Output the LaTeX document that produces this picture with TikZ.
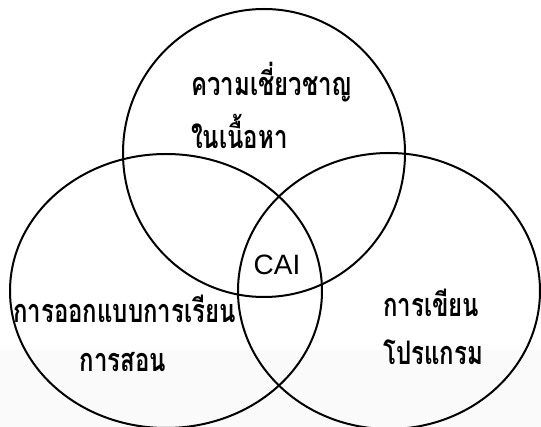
\documentclass[tikz,border=0pt]{standalone}
\usepackage{fontspec}
\setmainfont{Liberation Sans}
\newfontfamily\thaifont[Script=Thai]{Loma}
\usepackage{tikz}
\usetikzlibrary{positioning}

\newcommand{\thtext}[1]{\scalebox{1}[1.35]{#1}}

\tikzset{
  setline/.style={line width=2pt},
  thlabel/.style={inner sep=0pt, font=\thaifont\bfseries\fontsize{24}{28}\selectfont},
  cailabel/.style={inner sep=0pt, font=\fontsize{28}{32}\selectfont}
}

\begin{document}
\begin{tikzpicture}[x=1pt,y=-1pt]
  \useasboundingbox (0,0) rectangle (541,427);
  \fill[black!2] (0,350) rectangle (541,427);
  % the three sets
  \draw[setline] (264,153) ellipse [x radius=141pt, y radius=144pt];
  \draw[setline] (166,291) ellipse [x radius=156pt, y radius=137pt];
  \draw[setline] (389,291) ellipse [x radius=151pt, y radius=138pt];
  % labels
  \node[thlabel, anchor=west] (know1) at (191,82) {\thtext{ความเชี่ยวชาญ}};
  \node[thlabel, anchor=west] (know2) at (191,131) {\thtext{ในเนื้อหา}};
  \node[cailabel] (cai) at (277,265) {CAI};
  \node[thlabel, anchor=west] (design1) at (13,309) {\thtext{การออกแบบการเรียน}};
  \node[thlabel] (design2) at (123,362) {\thtext{การสอน}};
  \node[thlabel, anchor=west] (prog1) at (383,303) {\thtext{การเขียน}};
  \node[thlabel, anchor=west] (prog2) at (383,352) {\thtext{โปรแกรม}};
\end{tikzpicture}
\end{document}
